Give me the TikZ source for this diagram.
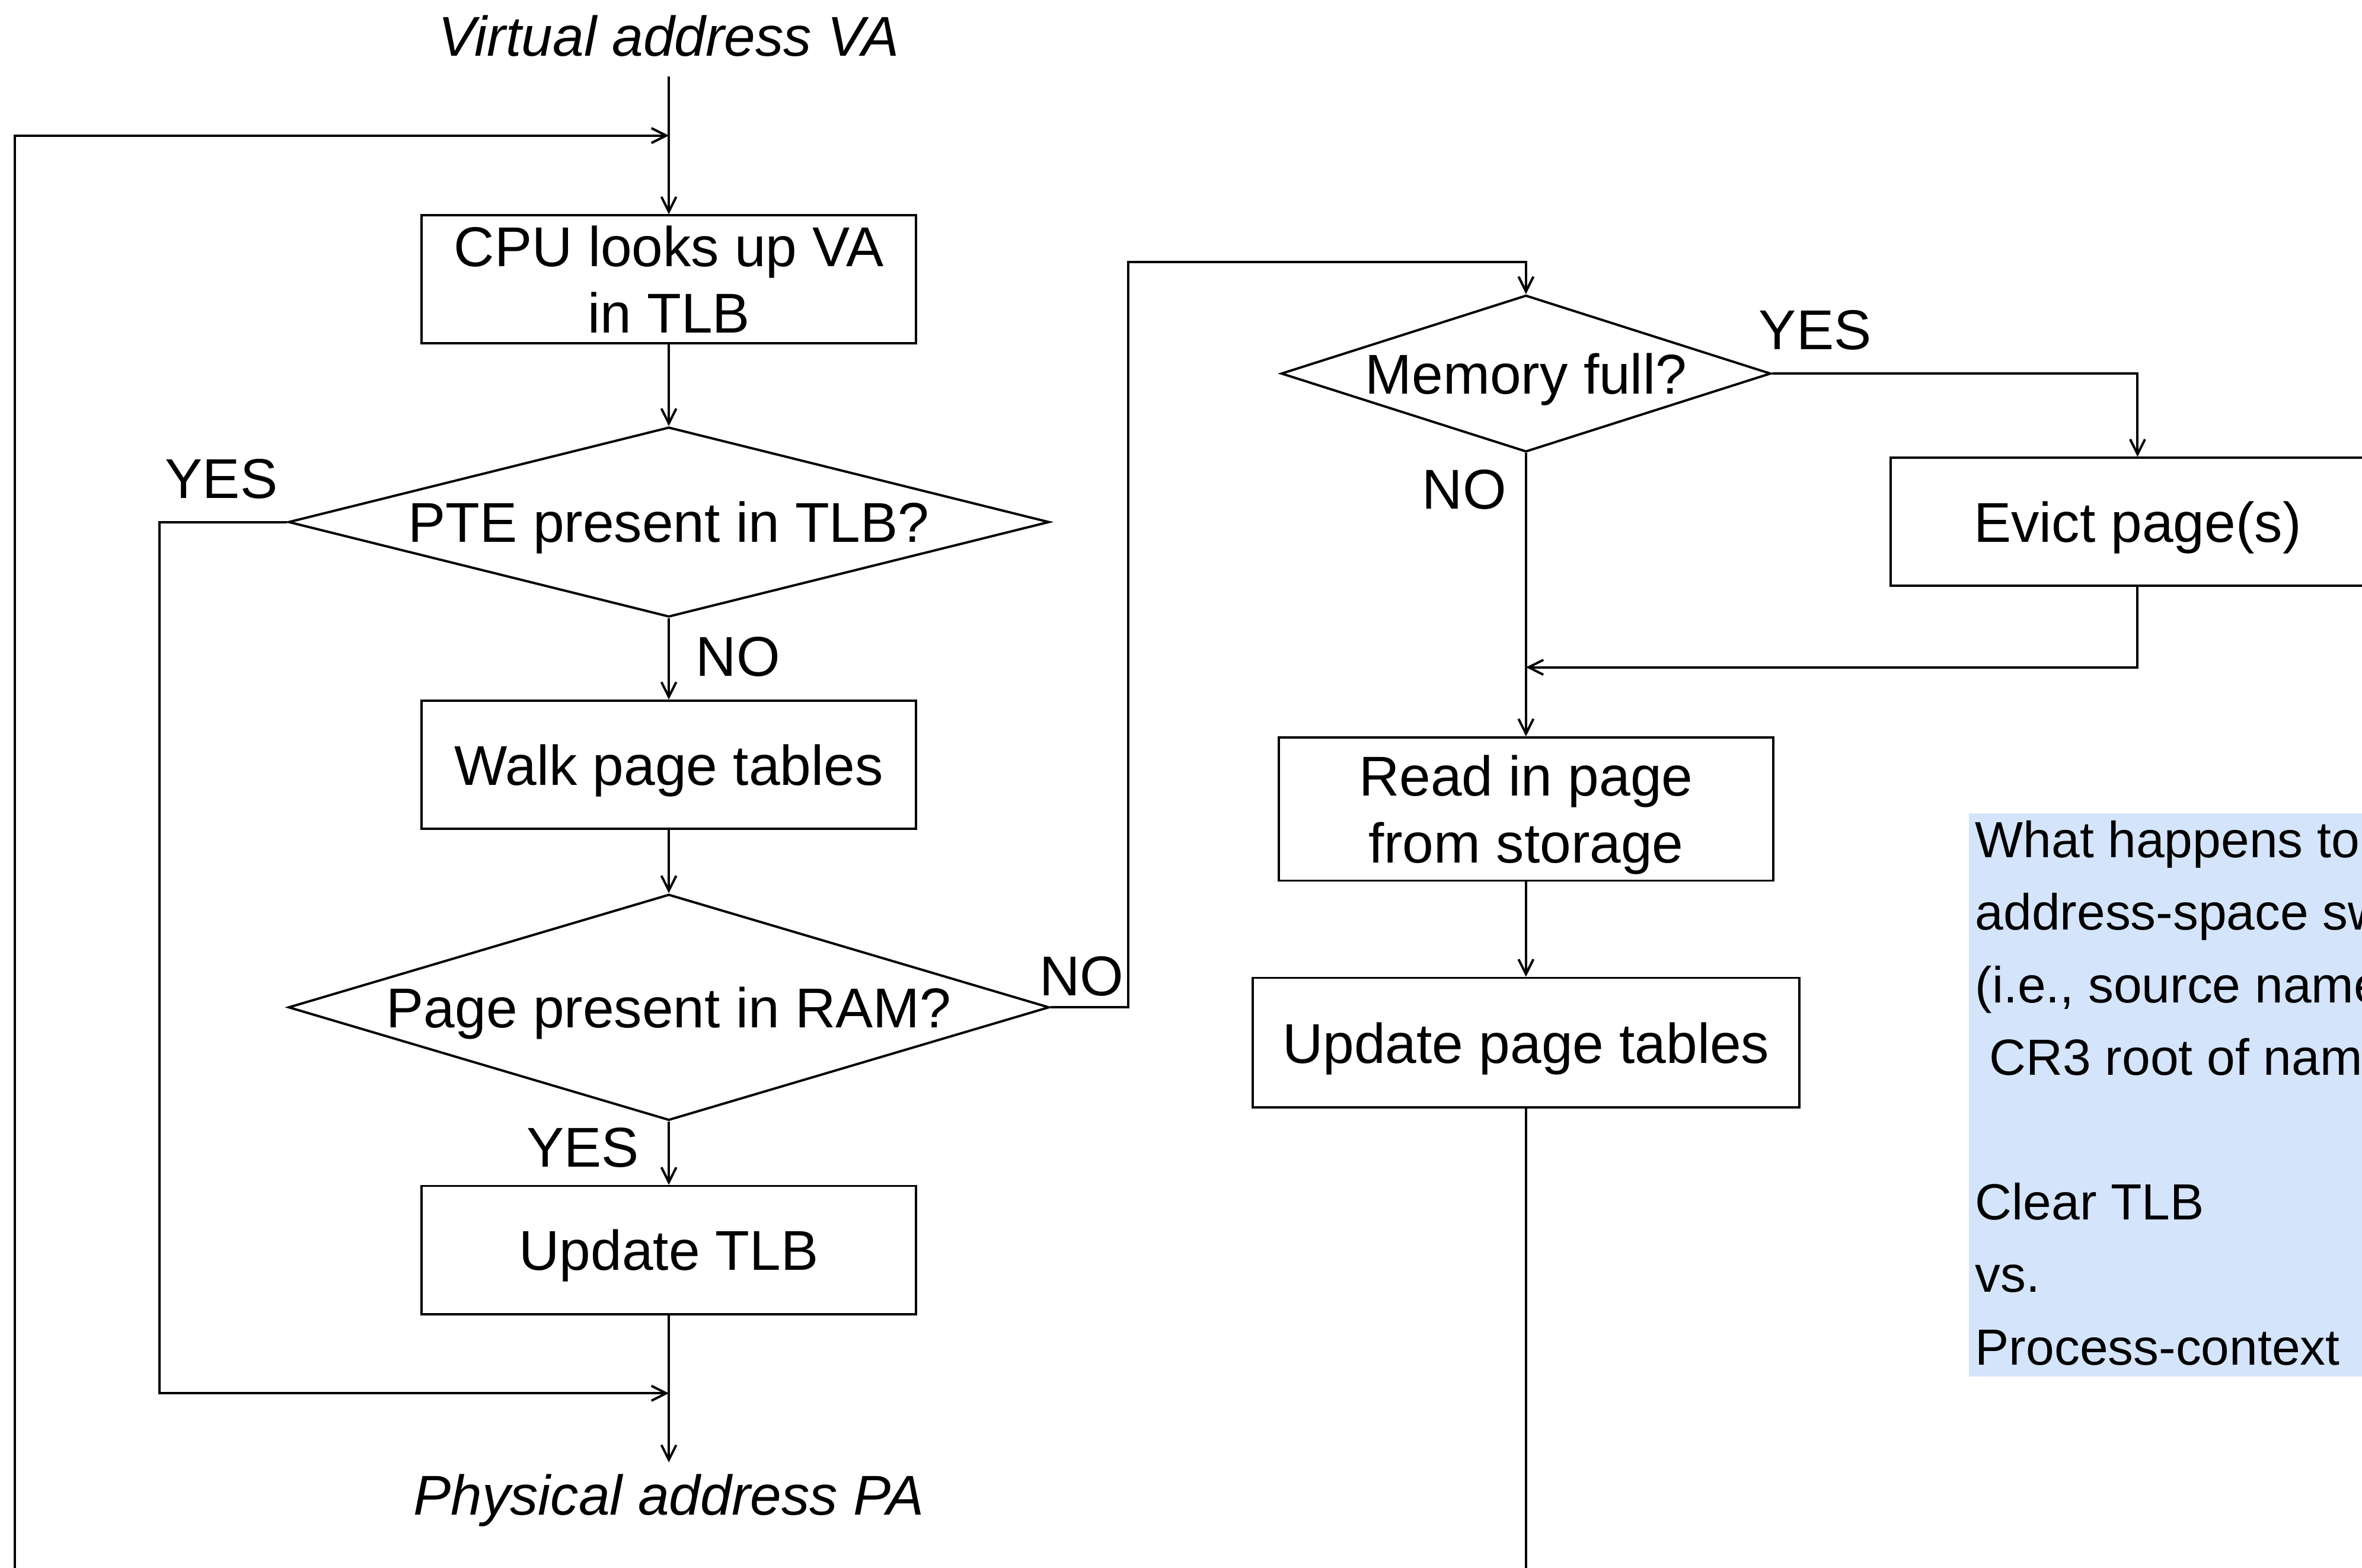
\documentclass[tikz,border=0pt]{standalone}
\usepackage{fontspec}
\setmainfont{Liberation Sans}
\usetikzlibrary{arrows.meta, shapes.geometric, positioning}
\definecolor{notebg}{RGB}{212,228,250}
\newcommand{\flowfont}{\fontsize{26.5}{31.5}\selectfont}
\newcommand{\notefont}{\fontsize{24}{34.2}\selectfont}

\begin{document}
\begin{tikzpicture}[x=0.025cm, y=-0.025cm,
    box/.style={draw, line width=1.1pt, minimum width=8.2cm,
        minimum height=2.125cm, inner sep=0pt, text depth=0pt,
        align=center, font=\flowfont},
    dec/.style={diamond, draw, line width=1.1pt, inner sep=0pt,
        text depth=0pt, align=center, font=\flowfont},
    term/.style={font=\flowfont\itshape, inner sep=0pt},
    lbl/.style={font=\flowfont, inner sep=0pt},
    note/.style={font=\notefont, align=left, inner sep=0pt},
    arr/.style={-{Straight Barb[length=7pt, width=7pt]}, line width=1.1pt}
  ]
  \useasboundingbox (0,0) rectangle (1568,1041);
  \clip (0,0) rectangle (1568,1041);

  % left column
  \node[term, inner ysep=9pt] (va) at (444,24) {Virtual address VA};
  \node[box] (cpu) at (444,185.5) {CPU looks up VA\\in TLB};
  \node[dec, minimum width=12.625cm, minimum height=3.15cm, shape aspect=4,
    below=1.35cm of cpu] (pte) {PTE present in TLB?};
  \node[box, below=1.35cm of pte] (walk) {Walk page tables};
  \node[dec, minimum width=12.625cm, minimum height=3.75cm, shape aspect=3.4,
    below=1.05cm of walk] (ram) {Page present in RAM?};
  \node[box, below=1.05cm of ram] (tlb) {Update TLB};
  \node[term, inner ysep=5.3pt] (pa) at (444,996) {Physical address PA};

  % right column
  \node[dec, minimum width=8.125cm, minimum height=2.6cm, shape aspect=3.1]
    (mem) at (1013,248) {Memory full?};
  \node[box] (evict) at (1419,346.5) {Evict page(s)};
  \node[box, minimum height=2.375cm, below=4.7cm of mem] (read)
    {Read in page\\from storage};
  \node[box, minimum width=9.075cm, minimum height=2.15cm,
    below=1.575cm of read] (upt) {Update page tables};

  % branch labels
  \node[lbl] (ptey) at (147,318) {YES};
  \node[lbl] (pten) at (490,436) {NO};
  \node[lbl] (ramn) at (718,648) {NO};
  \node[lbl] (ramy) at (387,762) {YES};
  \node[lbl] (memy) at (1205,219) {YES};
  \node[lbl] (memn) at (972,325) {NO};

  % bend points
  \coordinate (join) at (444,90);
  \coordinate (merge) at (444,925);
  \coordinate (yesbend) at (106,925);
  \coordinate (nobend) at (749,174);
  \coordinate (mergeR) at (1013,443);
  \coordinate (retbot) at (10,1100);

  \draw[arr] (va) -- (cpu);
  \draw[arr] (upt.south) |- (retbot) |- (join);
  \draw[arr] (cpu) -- (pte);
  \draw[arr] (pte) -- (walk);
  \draw[arr] (walk) -- (ram);
  \draw[arr] (ram) -- (tlb);
  \draw[arr] (tlb) -- (pa);
  \draw[arr] (pte.west) -| (yesbend) -- (merge);
  \draw[arr] (ram.east) -| (nobend) -| (mem.north);
  \draw[arr] (mem.east) -| (evict.north);
  \draw[arr] (evict.south) |- (mergeR);
  \draw[arr] (mem) -- (read);
  \draw[arr] (read) -- (upt);

  % side note
  \fill[notebg] (1307,540) rectangle (1600,914);
  \node[note, anchor=base west] (q) at (1311,906)
    {What happens to\\address-space sw\\(i.e., source name\\~CR3 root of nam\\~\\Clear TLB\\vs.\\Process-context};
\end{tikzpicture}
\end{document}
